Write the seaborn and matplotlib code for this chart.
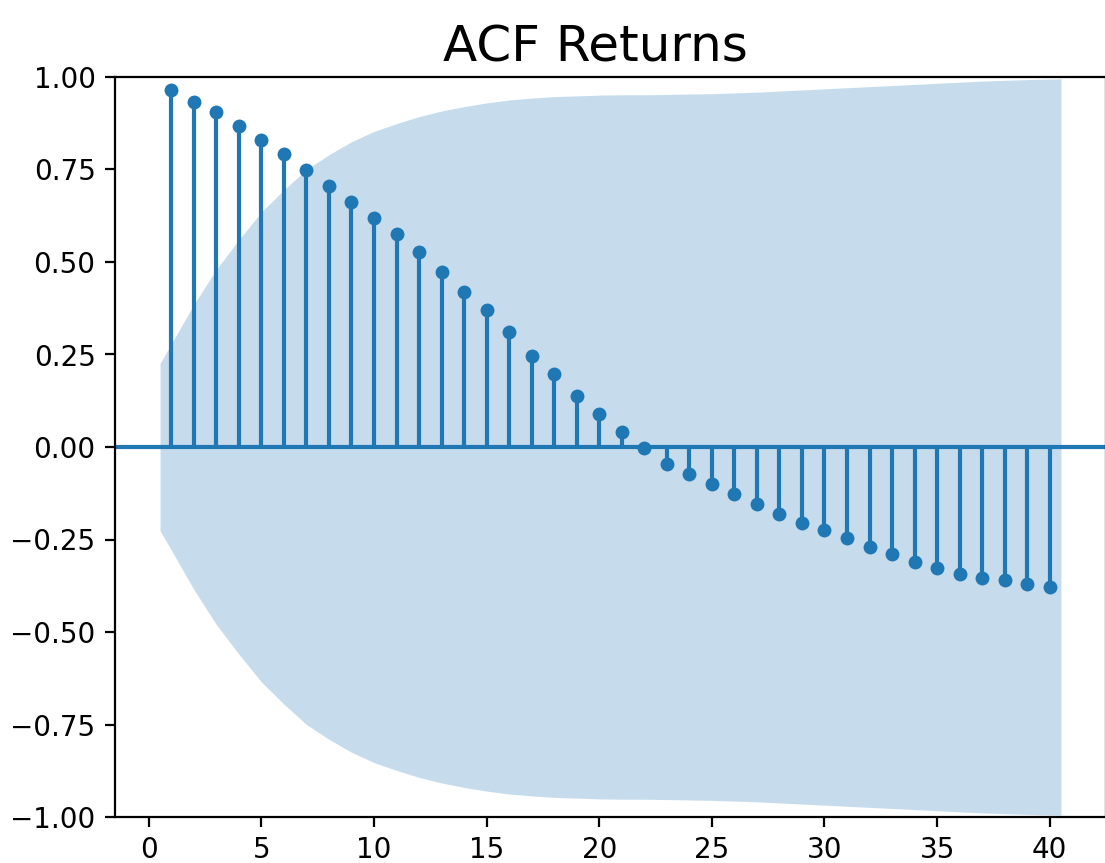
import numpy as np
import pandas as pd
import matplotlib
matplotlib.use("Agg")
import matplotlib.pyplot as plt
import seaborn as sns

# ---- data ----
lags = list(range(1, 41))
acf_values = [0.965, 0.933, 0.905, 0.868, 0.830, 0.792, 0.749, 0.705, 0.661, 0.620,
              0.576, 0.527, 0.472, 0.418, 0.370, 0.310, 0.247, 0.197, 0.138, 0.089,
              0.041, -0.004, -0.046, -0.073, -0.101, -0.128, -0.154, -0.182, -0.205, -0.224,
              -0.245, -0.269, -0.290, -0.312, -0.328, -0.343, -0.355, -0.359, -0.371, -0.378]
# half-width of the confidence band at each lag
band_halfwidth = [0.226, 0.385, 0.480, 0.560, 0.635, 0.695, 0.750, 0.790, 0.825, 0.853,
                  0.874, 0.893, 0.908, 0.920, 0.930, 0.938, 0.943, 0.947, 0.949, 0.951,
                  0.952, 0.952, 0.953, 0.954, 0.955, 0.957, 0.959, 0.962, 0.965, 0.968,
                  0.971, 0.974, 0.977, 0.980, 0.983, 0.986, 0.989, 0.991, 0.993, 0.995]
x_ticks = [0, 5, 10, 15, 20, 25, 30, 35, 40]
y_ticks = [-1.0, -0.75, -0.5, -0.25, 0.0, 0.25, 0.5, 0.75, 1.0]
title = "ACF Returns"

df = pd.DataFrame({"lag": lags, "acf": acf_values, "band": band_halfwidth})

W, H = 1105, 863
fig = plt.figure(figsize=(W / 100, H / 100), dpi=100)
ax = fig.add_axes([115 / W, (H - 817) / H, 991 / W, 740 / H])

color = "#1f77b4"

# confidence band (ends shifted by half a lag, like statsmodels)
band_x = df["lag"].astype(float).to_numpy().copy()
band_x[0] -= 0.5
band_x[-1] += 0.5
ax.fill_between(band_x, -df["band"], df["band"], color=color, alpha=0.25,
                linewidth=0, zorder=1)

# stems and zero line
ax.vlines(df["lag"], 0, df["acf"], color=color, linewidth=3, zorder=2)
ax.axhline(0, color=color, linewidth=3, zorder=2)

# markers
sns.scatterplot(data=df, x="lag", y="acf", ax=ax, color=color, s=100,
                linewidth=0, zorder=3, legend=False)

ax.set_xlim(-1.5, 42.5)
ax.set_ylim(-1, 1)
ax.set_xticks(x_ticks)
ax.set_yticks(y_ticks)
ax.set_yticklabels([f"{v:.2f}".replace("-", "\u2212") for v in y_ticks])
ax.set_xlabel("")
ax.set_ylabel("")
ax.tick_params(labelsize=20, length=7, width=1.6, pad=7, colors="black")
for sp in ax.spines.values():
    sp.set_linewidth(1.6)
    sp.set_color("black")

fig.text(595 / W, 1 - 62 / H, title, fontsize=36, ha="center", va="baseline")

fig.savefig("out.png", dpi=100)
